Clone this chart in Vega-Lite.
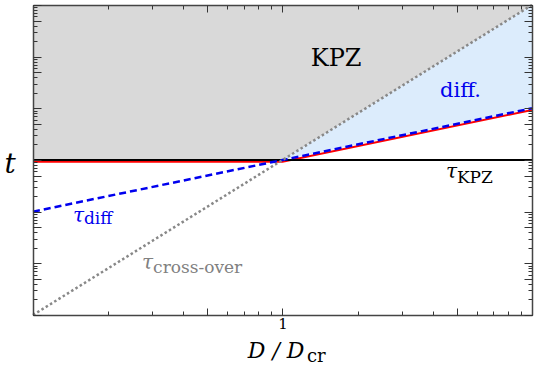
{
  "$schema": "https://vega.github.io/schema/vega-lite/v6.json",
  "width": 499,
  "height": 310,
  "autosize": {"type": "none"},
  "padding": {"left": 33, "top": 5, "right": 8, "bottom": 61},
  "background": "white",
  "config": {"view": {"stroke": null}},
  "resolve": {"axis": {"x": "independent", "y": "independent"}},
  "layer": [
    {
      "data": {"values": [
        {"D": 0.1, "t": 1, "t2": 1000},
        {"D": 1, "t": 1, "t2": 1000},
        {"D": 10, "t": 1000, "t2": 1000}
      ]},
      "mark": {"type": "area", "color": "#d9d9d9", "opacity": 1},
      "encoding": {
        "x": {"field": "D", "type": "quantitative",
          "scale": {"type": "log", "domain": [0.1, 10], "nice": false},
          "axis": {"orient": "bottom", "title": null, "grid": false, "zindex": 1,
            "values": [0.1,0.2,0.3,0.4,0.5,0.6,0.7,0.8,0.9,1,2,3,4,5,6,7,8,9,10],
            "labelExpr": "datum.value == 1 ? '1' : ''",
            "labelFont": "DejaVu Serif", "labelFontSize": 15, "labelColor": "black",
            "labelPadding": 5, "labelOverlap": false, "labelFlush": false,
            "tickSize": -4, "tickColor": "#333", "tickWidth": 1,
            "domainColor": "#444", "domainWidth": 1.5
          }},
        "y": {"field": "t", "type": "quantitative",
          "scale": {"type": "log", "domain": [0.001, 1000], "nice": false},
          "axis": {"orient": "left", "title": null, "grid": false, "zindex": 1, "labels": false,
            "values": [0.001,0.002,0.003,0.004,0.005,0.006,0.007,0.008,0.009,0.01,0.02,0.03,0.04,0.05,0.06,0.07,0.08,0.09,0.1,0.2,0.3,0.4,0.5,0.6,0.7,0.8,0.9,1,2,3,4,5,6,7,8,9,10,20,30,40,50,60,70,80,90,100,200,300,400,500,600,700,800,900,1000],
            "tickSize": -4, "tickColor": "#333", "tickWidth": 1,
            "domainColor": "#444", "domainWidth": 1.5
          }},
        "y2": {"field": "t2"}
      }
    },
    {
      "data": {"values": [
        {"D": 1, "t": 1, "t2": 1},
        {"D": 10, "t": 10, "t2": 1000}
      ]},
      "mark": {"type": "area", "color": "#dcecfc", "opacity": 1},
      "encoding": {
        "x": {"field": "D", "type": "quantitative",
          "scale": {"type": "log", "domain": [0.1, 10], "nice": false},
          "axis": {"orient": "top", "title": null, "grid": false, "zindex": 1, "labels": false,
            "values": [0.1,0.2,0.3,0.4,0.5,0.6,0.7,0.8,0.9,1,2,3,4,5,6,7,8,9,10],
            "tickSize": -4, "tickColor": "#333", "tickWidth": 1,
            "domainColor": "#444", "domainWidth": 1.5
          }},
        "y": {"field": "t", "type": "quantitative",
          "scale": {"type": "log", "domain": [0.001, 1000], "nice": false},
          "axis": {"orient": "right", "title": null, "grid": false, "zindex": 1, "labels": false,
            "values": [0.001,0.002,0.003,0.004,0.005,0.006,0.007,0.008,0.009,0.01,0.02,0.03,0.04,0.05,0.06,0.07,0.08,0.09,0.1,0.2,0.3,0.4,0.5,0.6,0.7,0.8,0.9,1,2,3,4,5,6,7,8,9,10,20,30,40,50,60,70,80,90,100,200,300,400,500,600,700,800,900,1000],
            "tickSize": -4, "tickColor": "#333", "tickWidth": 1,
            "domainColor": "#444", "domainWidth": 1.5
          }},
        "y2": {"field": "t2"}
      }
    },
    {
      "data": {"values": [
        {"D": 0.1, "t": 0.93},
        {"D": 1, "t": 0.93},
        {"D": 10, "t": 9.3}
      ]},
      "mark": {"type": "line", "color": "#ff0000", "strokeWidth": 2},
      "encoding": {
        "x": {"field": "D", "type": "quantitative", "scale": {"type": "log", "domain": [0.1, 10], "nice": false},
          "axis": {"orient": "bottom", "title": null, "grid": false, "zindex": 1, "labels": false, "domain": false,
            "values": [0.1, 0.5, 1, 5, 10], "tickSize": -7, "tickColor": "#333", "tickWidth": 1}},
        "y": {"field": "t", "type": "quantitative", "scale": {"type": "log", "domain": [0.001, 1000], "nice": false},
          "axis": {"orient": "left", "title": null, "grid": false, "zindex": 1, "labels": false, "domain": false,
            "values": [0.001, 0.005, 0.01, 0.05, 0.1, 0.5, 1, 5, 10, 50, 100, 500, 1000], "tickSize": -8, "tickColor": "#333", "tickWidth": 1}}
      }
    },
    {
      "data": {"values": [
        {"D": 0.1, "t": 1},
        {"D": 10, "t": 1}
      ]},
      "mark": {"type": "line", "color": "#000000", "strokeWidth": 2},
      "encoding": {
        "x": {"field": "D", "type": "quantitative", "scale": {"type": "log", "domain": [0.1, 10], "nice": false},
          "axis": {"orient": "top", "title": null, "grid": false, "zindex": 1, "labels": false, "domain": false,
            "values": [0.1, 0.5, 1, 5, 10], "tickSize": -7, "tickColor": "#333", "tickWidth": 1}},
        "y": {"field": "t", "type": "quantitative", "scale": {"type": "log", "domain": [0.001, 1000], "nice": false},
          "axis": {"orient": "right", "title": null, "grid": false, "zindex": 1, "labels": false, "domain": false,
            "values": [0.001, 0.005, 0.01, 0.05, 0.1, 0.5, 1, 5, 10, 50, 100, 500, 1000], "tickSize": -8, "tickColor": "#333", "tickWidth": 1}}
      }
    },
    {
      "data": {"values": [
        {"D": 0.1, "t": 0.1},
        {"D": 1, "t": 1},
        {"D": 10, "t": 10}
      ]},
      "mark": {"type": "line", "color": "#0000ee", "strokeWidth": 2.5, "strokeDash": [7, 4]},
      "encoding": {
        "x": {"field": "D", "type": "quantitative", "scale": {"type": "log", "domain": [0.1, 10], "nice": false}, "axis": null},
        "y": {"field": "t", "type": "quantitative", "scale": {"type": "log", "domain": [0.001, 1000], "nice": false}, "axis": null}
      }
    },
    {
      "data": {"values": [
        {"D": 0.1, "t": 0.001},
        {"D": 1, "t": 1},
        {"D": 10, "t": 1000}
      ]},
      "mark": {"type": "line", "color": "#888888", "strokeWidth": 2.5, "strokeDash": [2.5, 2.5]},
      "encoding": {
        "x": {"field": "D", "type": "quantitative", "scale": {"type": "log", "domain": [0.1, 10], "nice": false}, "axis": null},
        "y": {"field": "t", "type": "quantitative", "scale": {"type": "log", "domain": [0.001, 1000], "nice": false}, "axis": null}
      }
    },
    {
      "data": {"values": [{"D": 1.64, "t": 66.8, "label": "KPZ"}]},
      "mark": {"type": "text", "font": "DejaVu Serif", "fontSize": 24, "color": "black", "align": "center", "baseline": "alphabetic"},
      "encoding": {
        "x": {"field": "D", "type": "quantitative", "scale": {"type": "log", "domain": [0.1, 10], "nice": false}, "axis": null},
        "y": {"field": "t", "type": "quantitative", "scale": {"type": "log", "domain": [0.001, 1000], "nice": false}, "axis": null},
        "text": {"field": "label"}
      }
    },
    {
      "data": {"values": [{"D": 5.17, "t": 16.6, "label": "diff."}]},
      "mark": {"type": "text", "font": "DejaVu Serif", "fontSize": 21, "color": "#0000ee", "align": "center", "baseline": "alphabetic"},
      "encoding": {
        "x": {"field": "D", "type": "quantitative", "scale": {"type": "log", "domain": [0.1, 10], "nice": false}, "axis": null},
        "y": {"field": "t", "type": "quantitative", "scale": {"type": "log", "domain": [0.001, 1000], "nice": false}, "axis": null},
        "text": {"field": "label"}
      }
    },
    {
      "data": {"values": [{"D": 4.52, "t": 0.449, "label": "τ"}]},
      "mark": {"type": "text", "font": "DejaVu Serif", "fontSize": 20, "fontStyle": "italic", "color": "black", "align": "left", "baseline": "alphabetic"},
      "encoding": {
        "x": {"field": "D", "type": "quantitative", "scale": {"type": "log", "domain": [0.1, 10], "nice": false}, "axis": null},
        "y": {"field": "t", "type": "quantitative", "scale": {"type": "log", "domain": [0.001, 1000], "nice": false}, "axis": null},
        "text": {"field": "label"}
      }
    },
    {
      "data": {"values": [{"D": 0.0809, "t": 0.56, "label": "t"}]},
      "mark": {"type": "text", "font": "DejaVu Serif", "fontSize": 28, "fontStyle": "italic", "color": "black", "align": "center", "baseline": "alphabetic"},
      "encoding": {
        "x": {"field": "D", "type": "quantitative", "scale": {"type": "log", "domain": [0.1, 10], "nice": false}, "axis": null},
        "y": {"field": "t", "type": "quantitative", "scale": {"type": "log", "domain": [0.001, 1000], "nice": false}, "axis": null},
        "text": {"field": "label"}
      }
    },
    {
      "data": {"values": [{"D": 5.0, "t": 0.351, "label": "KPZ"}]},
      "mark": {"type": "text", "font": "DejaVu Serif", "fontSize": 17, "color": "black", "align": "left", "baseline": "alphabetic"},
      "encoding": {
        "x": {"field": "D", "type": "quantitative", "scale": {"type": "log", "domain": [0.1, 10], "nice": false}, "axis": null},
        "y": {"field": "t", "type": "quantitative", "scale": {"type": "log", "domain": [0.001, 1000], "nice": false}, "axis": null},
        "text": {"field": "label"}
      }
    },
    {
      "data": {"values": [{"D": 0.1446, "t": 0.063, "label": "τ"}]},
      "mark": {"type": "text", "font": "DejaVu Serif", "fontSize": 20, "fontStyle": "italic", "color": "#0000ee", "align": "left", "baseline": "alphabetic"},
      "encoding": {
        "x": {"field": "D", "type": "quantitative", "scale": {"type": "log", "domain": [0.1, 10], "nice": false}, "axis": null},
        "y": {"field": "t", "type": "quantitative", "scale": {"type": "log", "domain": [0.001, 1000], "nice": false}, "axis": null},
        "text": {"field": "label"}
      }
    },
    {
      "data": {"values": [{"D": 0.160, "t": 0.0565, "label": "diff"}]},
      "mark": {"type": "text", "font": "DejaVu Serif", "fontSize": 17, "color": "#0000ee", "align": "left", "baseline": "alphabetic"},
      "encoding": {
        "x": {"field": "D", "type": "quantitative", "scale": {"type": "log", "domain": [0.1, 10], "nice": false}, "axis": null},
        "y": {"field": "t", "type": "quantitative", "scale": {"type": "log", "domain": [0.001, 1000], "nice": false}, "axis": null},
        "text": {"field": "label"}
      }
    },
    {
      "data": {"values": [{"D": 0.2735, "t": 0.00777, "label": "τ"}]},
      "mark": {"type": "text", "font": "DejaVu Serif", "fontSize": 20, "fontStyle": "italic", "color": "#808080", "align": "left", "baseline": "alphabetic"},
      "encoding": {
        "x": {"field": "D", "type": "quantitative", "scale": {"type": "log", "domain": [0.1, 10], "nice": false}, "axis": null},
        "y": {"field": "t", "type": "quantitative", "scale": {"type": "log", "domain": [0.001, 1000], "nice": false}, "axis": null},
        "text": {"field": "label"}
      }
    },
    {
      "data": {"values": [{"D": 0.303, "t": 0.0065, "label": "cross-over"}]},
      "mark": {"type": "text", "font": "DejaVu Serif", "fontSize": 17, "color": "#808080", "align": "left", "baseline": "alphabetic"},
      "encoding": {
        "x": {"field": "D", "type": "quantitative", "scale": {"type": "log", "domain": [0.1, 10], "nice": false}, "axis": null},
        "y": {"field": "t", "type": "quantitative", "scale": {"type": "log", "domain": [0.001, 1000], "nice": false}, "axis": null},
        "text": {"field": "label"}
      }
    },
    {
      "data": {"values": [{"D": 1.225, "t": 0.000147, "label": "D / D"}]},
      "mark": {"type": "text", "font": "DejaVu Serif", "fontSize": 22, "fontStyle": "italic", "color": "black", "align": "right", "baseline": "alphabetic"},
      "encoding": {
        "x": {"field": "D", "type": "quantitative", "scale": {"type": "log", "domain": [0.1, 10], "nice": false}, "axis": null},
        "y": {"field": "t", "type": "quantitative", "scale": {"type": "log", "domain": [0.001, 1000], "nice": false}, "axis": null},
        "text": {"field": "label"}
      }
    },
    {
      "data": {"values": [{"D": 1.254, "t": 0.000123, "label": "cr"}]},
      "mark": {"type": "text", "font": "DejaVu Serif", "fontSize": 18, "color": "black", "align": "left", "baseline": "alphabetic"},
      "encoding": {
        "x": {"field": "D", "type": "quantitative", "scale": {"type": "log", "domain": [0.1, 10], "nice": false}, "axis": null},
        "y": {"field": "t", "type": "quantitative", "scale": {"type": "log", "domain": [0.001, 1000], "nice": false}, "axis": null},
        "text": {"field": "label"}
      }
    }
  ]
}
